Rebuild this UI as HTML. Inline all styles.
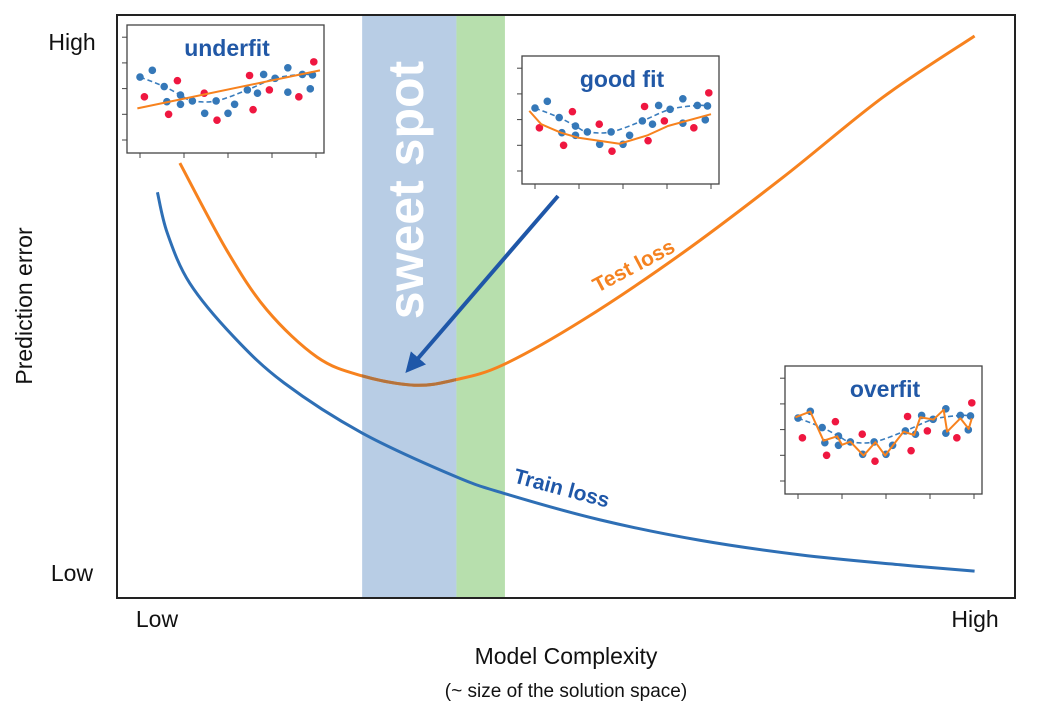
<!DOCTYPE html>
<html><head><meta charset="utf-8"><style>
html,body{margin:0;padding:0;background:#fff;}
svg{display:block;font-family:"Liberation Sans","DejaVu Sans",sans-serif;}
</style></head><body>
<svg id="chart" width="1058" height="715" viewBox="0 0 1058 715">
<defs>
<clipPath id="bandclip"><rect x="362" y="15" width="94" height="583"/></clipPath>
<marker id="ah" viewBox="0 0 10 10" refX="8" refY="5" markerWidth="5" markerHeight="5" orient="auto"><path d="M0,0 L10,5 L0,10 z" fill="#1f57a8"/></marker>
</defs>
<g id="bands"></g>
<g id="curves"></g>
<rect x="117" y="15" width="898" height="583" fill="none" stroke="#222" stroke-width="2"/>
<text x="410" y="190" transform="rotate(-90 410 190)" text-anchor="middle" dominant-baseline="middle" font-size="50" font-weight="bold" fill="#fff">sweet spot</text>
<text x="72" y="50" text-anchor="middle" font-size="23" fill="#111">High</text>
<text x="72" y="581" text-anchor="middle" font-size="23" fill="#111">Low</text>
<text x="157" y="627" text-anchor="middle" font-size="23" fill="#111">Low</text>
<text x="975" y="627" text-anchor="middle" font-size="23" fill="#111">High</text>
<text x="566" y="664" text-anchor="middle" font-size="23" fill="#111">Model Complexity</text>
<text x="566" y="697" text-anchor="middle" font-size="19" fill="#111">(~ size of the solution space)</text>
<text x="32" y="306" transform="rotate(-90 32 306)" text-anchor="middle" font-size="23" fill="#111">Prediction error</text>
<text x="637" y="272" transform="rotate(-28 637 272)" text-anchor="middle" font-size="21" font-weight="bold" fill="#f58220">Test loss</text>
<text x="560" y="495" transform="rotate(15 560 495)" text-anchor="middle" font-size="21" font-weight="bold" fill="#1f57a8">Train loss</text>
<line x1="558" y1="196" x2="408" y2="370" stroke="#1f57a8" stroke-width="4" marker-end="url(#ah)"/>
<g id="insets"></g>
</svg>
<script>
const trainX=[4.5,5.6,8.1,13.0,18.6,27.3,37.6,43.2,53.8,64.9,76.1,87.2,95.5];
const trainY=[69.6,62.6,54.0,44.8,36.9,28.3,20.9,17.9,13.4,9.9,7.4,5.7,4.6];
const testX=[7.0,12.2,16.7,22.3,27.3,33.1,37.6,43.0,51.9,63.0,74.2,85.3,95.5];
const testY=[74.6,59.7,49.4,41.3,38.1,36.5,37.4,40.0,47.7,59.2,72.2,85.9,96.4];
const bandSweet=[27.3,37.8];
const bandGreen=[37.8,43.2];
const ptBlueX=[0,0.28,0.55,0.61,0.92,0.92,1.19,1.47,1.73,2.0,2.15,2.44,2.67,2.81,3.07,3.36,3.36,3.69,3.87,3.92];
const ptBlueY=[2.45,2.71,2.08,1.49,1.75,1.39,1.52,1.04,1.52,1.04,1.39,1.95,1.82,2.55,2.40,2.81,1.86,2.55,1.99,2.53];
const ptRedX=[0.1,0.65,0.85,1.46,1.75,2.49,2.57,2.94,3.61,3.95];
const ptRedY=[1.68,1.0,2.31,1.82,0.77,2.51,1.18,1.95,1.68,3.04];
const trueX=[0,0.55,0.92,1.19,1.73,2.44,3.07,3.69,3.92];
const trueY=[2.45,2.08,1.75,1.52,1.52,1.95,2.40,2.55,2.53];
const underX=[-0.06,4.09];
const underY=[1.23,2.71];
const goodX=[-0.13,0.14,0.59,0.97,1.92,2.56,3.02,4.0];
const goodY=[2.34,1.82,1.49,1.30,1.06,1.39,1.75,2.21];
const overX=[-0.06,0.28,0.58,0.89,1.0,1.19,1.49,1.76,1.98,2.4,2.64,2.78,3.08,3.31,3.39,3.69,3.88,3.95];
const overY=[2.48,2.70,1.57,1.74,1.41,1.53,0.99,1.51,0.99,1.92,1.79,2.48,2.39,2.77,1.92,2.44,2.03,2.44];

const NS="http://www.w3.org/2000/svg";
const sx=v=>117+v*8.98, sy=v=>598-v*5.83;
function mk(tag,attrs,parent){const e=document.createElementNS(NS,tag);for(const k in attrs)e.setAttribute(k,attrs[k]);parent.appendChild(e);return e;}
function smooth(xs,ys,fx,fy){const p=xs.map((x,i)=>[fx(x),fy(ys[i])]);let d="M"+p[0][0]+","+p[0][1];
 for(let i=0;i<p.length-1;i++){const p0=p[i-1]||p[i],p1=p[i],p2=p[i+1],p3=p[i+2]||p2;
 d+=" C"+(p1[0]+(p2[0]-p0[0])/6)+","+(p1[1]+(p2[1]-p0[1])/6)+" "+(p2[0]-(p3[0]-p1[0])/6)+","+(p2[1]-(p3[1]-p1[1])/6)+" "+p2[0]+","+p2[1];}return d;}
function poly(xs,ys,fx,fy){return xs.map((x,i)=>(i?"L":"M")+fx(x)+","+fy(ys[i])).join(" ");}

const bands=document.getElementById('bands');
let b1=mk('rect',{x:sx(bandSweet[0]),y:15,width:sx(bandSweet[1])-sx(bandSweet[0]),height:583,fill:'#b8cde5'},bands);


let b2=mk('rect',{x:sx(bandGreen[0]),y:15,width:sx(bandGreen[1])-sx(bandGreen[0]),height:583,fill:'#b7dfad'},bands);



const cv=document.getElementById('curves');
let tr=mk('path',{d:smooth(trainX,trainY,sx,sy),fill:'none',stroke:'#2e6fb5','stroke-width':3},cv);


let te=mk('path',{d:smooth(testX,testY,sx,sy),fill:'none',stroke:'#f7821e','stroke-width':3},cv);


let te2=mk('path',{d:smooth(testX,testY,sx,sy),fill:'none',stroke:'#b5733c','stroke-width':3,'clip-path':'url(#bandclip)'},cv);



const insets=[
 {name:'underfit',x:127,y:25,fitX:underX,fitY:underY},
 {name:'good fit',x:522,y:56,fitX:goodX,fitY:goodY},
 {name:'overfit',x:785,y:366,fitX:overX,fitY:overY}];
const ig=document.getElementById('insets');
insets.forEach(s=>{
 const g=mk('g',{transform:'translate('+s.x+','+s.y+')'},ig);
 
 
 const fx=v=>13+v*44, fy=v=>115-v*25.7;
 mk('rect',{x:0,y:0,width:197,height:128,fill:'#fff',stroke:'#444','stroke-width':1.3},g);
 for(let i=0;i<5;i++){mk('line',{x1:fx(i),x2:fx(i),y1:128,y2:133,stroke:'#444'},g);mk('line',{x1:-5,x2:0,y1:fy(i),y2:fy(i),stroke:'#444'},g);}
 const t=mk('text',{x:100,y:31,'text-anchor':'middle','font-size':23,'font-weight':'bold',fill:'#2158a6'},g);t.textContent=s.name;
 
 
 mk('path',{d:smooth(trueX,trueY,fx,fy),fill:'none',stroke:'#3a7dbd','stroke-width':1.6,'stroke-dasharray':'5,3'},g);
 ptBlueX.forEach((x,i)=>{const c=mk('circle',{cx:fx(x),cy:fy(ptBlueY[i]),r:3.8,fill:'#3578b8'},g);
  
  });
 ptRedX.forEach((x,i)=>{const c=mk('circle',{cx:fx(x),cy:fy(ptRedY[i]),r:3.8,fill:'#ef1740'},g);
  
  });
 const f=mk('path',{d:poly(s.fitX,s.fitY,fx,fy),fill:'none',stroke:'#f7821e','stroke-width':2,'stroke-linejoin':'round'},g);
 
 
});
</script>
</body></html>
